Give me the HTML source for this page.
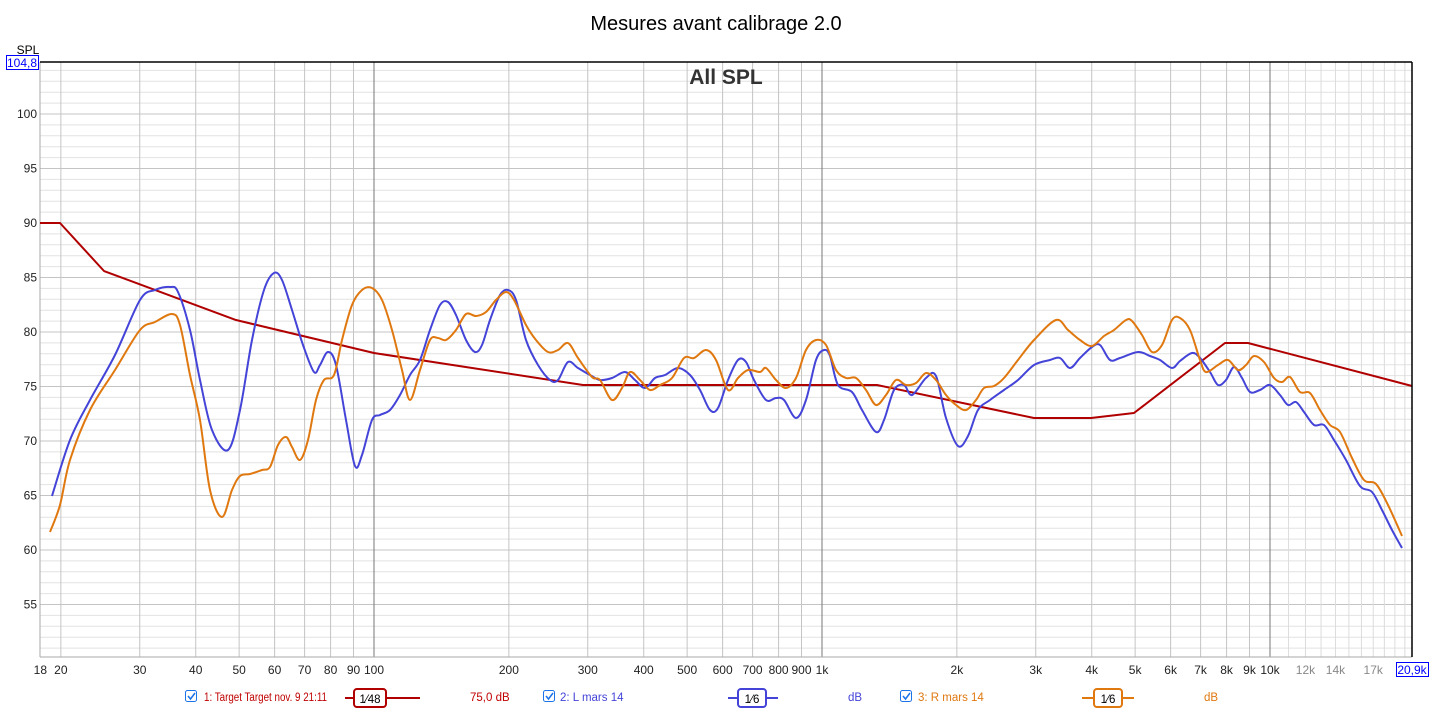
<!DOCTYPE html>
<html><head><meta charset="utf-8"><style>
body{margin:0;background:#fff;width:1433px;height:709px;overflow:hidden;font-family:"Liberation Sans",sans-serif}
svg{display:block}
</style></head><body>
<svg id="s" width="1433" height="709" xmlns="http://www.w3.org/2000/svg" font-family="Liberation Sans, sans-serif">
<text x="716" y="30" font-size="20" text-anchor="middle" fill="#000">Mesures avant calibrage 2.0</text>
<g id="grid"></g>
<text x="726" y="84" font-size="21" font-weight="bold" text-anchor="middle" fill="#333">All SPL</text>
<polyline fill="none" stroke="#b00000" stroke-width="2" stroke-linejoin="round" points="40,223 60,223 104,271 236,320 374,353 583,385 877,385 1034,418 1091,418 1134,413 1225,343 1248,343 1412,386"/>
<path class="sm" fill="none" stroke="#4444d8" stroke-width="2" data-p="52,496 70,440 90,400 115,355 140,300 155,290 170,287 178,292 190,330 200,380 212,430 228,450 240,410 252,340 264,290 274,273 282,280 292,310 303,345 314,372 320,365 328,352 336,365 346,420 355,466 362,455 372,420 380,415 390,410 400,395 410,375 420,360 430,330 440,305 448,302 456,315 466,340 475,352 482,345 490,320 500,295 508,290 516,300 526,340 538,365 550,380 558,380 568,362 578,368 590,375 600,380 612,378 625,372 635,380 645,388 655,378 665,375 678,368 690,375 700,390 710,410 718,408 728,380 738,360 746,362 754,380 766,400 776,398 784,400 796,418 806,400 816,360 824,350 830,356 838,385 852,392 862,410 876,432 884,420 894,390 904,385 912,395 926,378 936,376 946,418 958,446 968,436 978,410 990,400 1004,390 1018,380 1034,365 1050,360 1060,358 1070,368 1080,358 1092,347 1100,345 1110,360 1120,358 1138,352 1150,356 1160,360 1172,368 1180,361 1192,353 1200,358 1210,372 1218,385 1226,380 1234,367 1242,378 1250,392 1260,390 1270,385 1280,395 1288,405 1296,402 1304,412 1314,425 1324,425 1334,440 1346,460 1360,486 1372,492 1382,510 1392,530 1402,548"/>
<path class="sm" fill="none" stroke="#e07810" stroke-width="2" data-p="50,532 60,505 70,460 90,410 115,370 140,330 155,322 172,314 180,325 190,375 200,420 210,490 222,517 232,490 240,476 250,474 262,470 270,467 278,445 286,437 292,447 300,460 308,440 316,400 324,380 334,375 342,340 352,305 362,290 372,288 382,300 392,330 402,370 410,400 420,370 430,340 438,338 446,340 456,330 466,314 476,316 486,312 496,300 506,292 514,300 526,325 536,340 548,352 558,350 568,343 578,358 592,377 600,380 612,400 622,388 630,372 640,380 650,390 660,385 672,378 684,358 694,358 706,350 716,360 728,390 738,378 748,370 760,372 766,368 776,380 786,388 796,378 806,350 816,340 826,345 836,370 846,378 856,378 866,390 876,405 886,395 896,380 906,385 916,383 926,373 936,380 946,395 956,405 966,410 976,400 984,388 994,386 1004,378 1018,360 1034,340 1056,320 1068,330 1080,340 1092,346 1104,336 1114,330 1126,320 1132,321 1142,335 1152,352 1162,345 1172,320 1180,318 1190,330 1200,360 1206,372 1218,365 1228,360 1238,370 1246,365 1254,356 1264,362 1274,378 1282,382 1290,377 1300,392 1310,393 1320,410 1330,425 1340,432 1352,458 1364,480 1376,484 1388,505 1402,536"/>
<line x1="40" y1="62" x2="1412" y2="62" stroke="#000" stroke-width="1.5"/>
<line x1="1412" y1="62" x2="1412" y2="657" stroke="#000" stroke-width="1.5"/>
<text x="28" y="54" font-size="12" text-anchor="middle" fill="#000">SPL</text>
<rect x="6.5" y="55.5" width="32" height="14" fill="#fff" stroke="#0000ff"/>
<text x="22" y="67" font-size="12" text-anchor="middle" fill="#0000ff">104,8</text>
<rect x="1396.5" y="662.5" width="32" height="14" fill="#fff" stroke="#0000ff"/>
<text x="1412" y="674" font-size="12" text-anchor="middle" fill="#0000ff">20,9k</text>
<g font-size="11.5">
<rect x="185.5" y="690.5" width="11" height="11" rx="2" fill="#fff" stroke="#1a73e8"/><path d="M188 696 l2.5 3 l4.5 -6" stroke="#1a73e8" fill="none" stroke-width="1.5"/>
<text x="204" y="701" fill="#c00000" textLength="123" lengthAdjust="spacingAndGlyphs">1: Target Target nov. 9 21:11</text>
<line x1="345" y1="698" x2="388" y2="698" stroke="#b00000" stroke-width="2"/><line x1="357" y1="698" x2="388" y2="698" stroke="#b00000" stroke-width="2"/><line x1="370" y1="698" x2="420" y2="698" stroke="#b00000" stroke-width="2"/><rect x="354" y="689" width="32" height="18" rx="3" fill="#fff" stroke="#b00000" stroke-width="2"/><text x="370" y="703" text-anchor="middle" fill="#000">1⁄48</text>
<text x="470" y="701" fill="#c00000">75,0 dB</text>
<rect x="543.5" y="690.5" width="11" height="11" rx="2" fill="#fff" stroke="#1a73e8"/><path d="M546 696 l2.5 3 l4.5 -6" stroke="#1a73e8" fill="none" stroke-width="1.5"/>
<text x="560" y="701" fill="#4444d8">2: L mars 14</text>
<line x1="728" y1="698" x2="778" y2="698" stroke="#4444d8" stroke-width="2"/><rect x="738" y="689" width="28" height="18" rx="3" fill="#fff" stroke="#4444d8" stroke-width="2"/><text x="752" y="703" text-anchor="middle" fill="#000">1⁄6</text>
<text x="848" y="701" fill="#4444d8">dB</text>
<rect x="900.5" y="690.5" width="11" height="11" rx="2" fill="#fff" stroke="#1a73e8"/><path d="M903 696 l2.5 3 l4.5 -6" stroke="#1a73e8" fill="none" stroke-width="1.5"/>
<text x="918" y="701" fill="#e07810">3: R mars 14</text>
<line x1="1082" y1="698" x2="1134" y2="698" stroke="#e07810" stroke-width="2"/><rect x="1094" y="689" width="28" height="18" rx="3" fill="#fff" stroke="#e07810" stroke-width="2"/><text x="1108" y="703" text-anchor="middle" fill="#000">1⁄6</text>
<text x="1204" y="701" fill="#e07810">dB</text>
</g>
</svg>
<script>
var g=document.getElementById('grid'),h='';
function X(f){return 374+448*Math.log10(f/100);}
function Y(d){return 114+(100-d)*10.9;}
for(var d=51;d<=104;d++){var c=d%5==0?'#c4c4c4':'#e2e2e2';h+='<line x1="40" x2="1412" y1="'+Y(d)+'" y2="'+Y(d)+'" stroke="'+c+'"/>';
 if(d%5==0&&d<=100)h+='<text x="37" y="'+(Y(d)+4)+'" font-size="12" text-anchor="end" fill="#222">'+d+'</text>';}
var fs=[20,30,40,50,60,70,80,90,100,200,300,400,500,600,700,800,900,1000,2000,3000,4000,5000,6000,7000,8000,9000,10000,11000,12000,13000,14000,15000,16000,17000,18000,19000,20000];
fs.forEach(function(f){var c=(f==100||f==1000||f==10000)?'#777':(f>10000?'#dcdcdc':'#c4c4c4');var x=X(f);h+='<line y1="62" y2="657" x1="'+x+'" x2="'+x+'" stroke="'+c+'"/>';});
h+='<line y1="62" y2="657" x1="40" x2="40" stroke="#aaa"/><line y1="657" y2="657" x1="40" x2="1412" stroke="#aaa"/>';
var lab=[[18,'18'],[20,'20'],[30,'30'],[40,'40'],[50,'50'],[60,'60'],[70,'70'],[80,'80'],[90,'90'],[100,'100'],[200,'200'],[300,'300'],[400,'400'],[500,'500'],[600,'600'],[700,'700'],[800,'800'],[900,'900'],[1000,'1k'],[2000,'2k'],[3000,'3k'],[4000,'4k'],[5000,'5k'],[6000,'6k'],[7000,'7k'],[8000,'8k'],[9000,'9k'],[10000,'10k'],[12000,'12k'],[14000,'14k'],[17000,'17k']];
lab.forEach(function(l){var c=l[0]>10000?'#888':'#222';h+='<text x="'+X(l[0])+'" y="674" font-size="12" text-anchor="middle" fill="'+c+'">'+l[1]+'</text>';});
g.innerHTML=h;
document.querySelectorAll('path.sm').forEach(function(p){
 var a=p.getAttribute('data-p').trim().split(/\s+/).map(function(s){return s.split(',').map(Number);});
 var d='M'+a[0][0]+' '+a[0][1];
 for(var i=0;i<a.length-1;i++){var p0=a[Math.max(0,i-1)],p1=a[i],p2=a[i+1],p3=a[Math.min(a.length-1,i+2)];
  var c1x=p1[0]+(p2[0]-p0[0])/6,c1y=p1[1]+(p2[1]-p0[1])/6,c2x=p2[0]-(p3[0]-p1[0])/6,c2y=p2[1]-(p3[1]-p1[1])/6;
  d+=' C'+c1x+' '+c1y+' '+c2x+' '+c2y+' '+p2[0]+' '+p2[1];}
 p.setAttribute('d',d);p.removeAttribute('data-p');
});
</script>
</body></html>
